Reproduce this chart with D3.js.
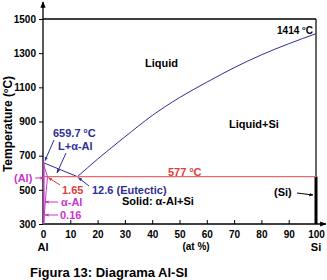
<!DOCTYPE html>
<meta charset="utf-8">
<style>
    body { margin: 0; background: #fff; }
    svg { font-family: "Liberation Sans", Arial, sans-serif; font-weight: bold; }
    .tick text { font-size: 10px; font-weight: bold; fill: #000; font-family: "Liberation Sans", Arial, sans-serif; }
</style>
<body>
<script src="https://cdn.jsdelivr.net/npm/d3@7"></script>
<script>
    var width = 327,
        height = 280

    // data
    var xTicks = [0, 10, 20, 30, 40, 50, 60, 70, 80, 90, 100]
    var yTicks = [300, 500, 700, 900, 1100, 1300, 1500]
    var liqAl = [[0, 659.7], [12.6, 577]]
    var liqSi = [[12.6, 577], [20, 680], [30, 810], [40, 935], [50, 1040], [60, 1130], [70, 1215], [80, 1290], [90, 1355], [100, 1414]]
    var solidus = [[0, 659.7], [1.65, 577]]
    var solvus = [[1.65, 577], [1.2, 500], [0.7, 400], [0.16, 300]]
    var eutecticT = 577

    var blue = "#2e2e96", red = "#e03c3c", pink = "#cc33cc"

    var svg = d3.select("body").append("svg")
        .attr("width", width)
        .attr("height", height)

    var defs = svg.append("defs")
    function marker(id, color, size) {
        defs.append("marker").attr("id", id)
            .attr("viewBox", "0 0 10 10").attr("refX", 9).attr("refY", 5)
            .attr("markerWidth", size).attr("markerHeight", size)
            .attr("orient", "auto")
            .append("path").attr("d", "M0,1L10,5L0,9z").attr("fill", color)
    }
    marker("ab", blue, 4)
    marker("ar", red, 4)
    marker("ap", pink, 4)
    marker("ak", "#000", 4)
    marker("axis", "#000", 5)

    var x = d3.scaleLinear().domain([0, 100]).range([43, 316])
    var y = d3.scaleLinear().domain([300, 1500]).range([224, 19])

    var line = d3.line()
        .x(function (d) { return x(d[0]) })
        .y(function (d) { return y(d[1]) })

    // axes
    var xAxis = svg.append("g").attr("transform", "translate(0," + y(300) + ")")
        .call(d3.axisBottom(x).tickValues(xTicks).tickFormat(d3.format("d")).tickSize(-4).tickPadding(7))
    xAxis.select(".domain").remove()

    var yAxis = svg.append("g").attr("transform", "translate(" + x(0) + ",0)")
        .call(d3.axisLeft(y).tickValues(yTicks).tickFormat(d3.format("d")).tickSize(4).tickPadding(3))
    yAxis.select(".domain").remove()

    svg.append("line").attr("x1", x(0)).attr("y1", y(300)).attr("x2", 326).attr("y2", y(300))
        .attr("stroke", "#000").attr("stroke-width", 1.3).attr("marker-end", "url(#axis)")
    svg.append("line").attr("x1", x(0)).attr("y1", y(300)).attr("x2", x(0)).attr("y2", 2)
        .attr("stroke", "#000").attr("stroke-width", 1.3).attr("marker-end", "url(#axis)")

    // frame
    svg.append("line").attr("x1", x(0)).attr("x2", x(100)).attr("y1", y(1500)).attr("y2", y(1500))
        .attr("stroke", "#000").attr("stroke-width", 1.5)
    svg.append("line").attr("x1", x(100)).attr("x2", x(100)).attr("y1", y(1500)).attr("y2", y(eutecticT))
        .attr("stroke", "#000").attr("stroke-width", 1.2)
    svg.append("line").attr("x1", x(100)).attr("x2", x(100)).attr("y1", y(eutecticT)).attr("y2", y(300))
        .attr("stroke", "#000").attr("stroke-width", 3)

    // phase boundaries
    svg.append("path").datum(liqSi).attr("d", line.curve(d3.curveMonotoneX))
        .attr("fill", "none").attr("stroke", blue).attr("stroke-width", 1)
    line.curve(d3.curveLinear)
    svg.append("path").datum(liqAl).attr("d", line)
        .attr("fill", "none").attr("stroke", blue).attr("stroke-width", 1)
    svg.append("line").attr("x1", x(0)).attr("x2", x(100)).attr("y1", y(eutecticT)).attr("y2", y(eutecticT))
        .attr("stroke", "#e86a6a").attr("stroke-width", 1.2)
    svg.append("path").datum(solidus).attr("d", line)
        .attr("fill", "none").attr("stroke", pink).attr("stroke-width", 1)
    svg.append("path").datum(solvus).attr("d", line.curve(d3.curveBasis))
        .attr("fill", "none").attr("stroke", pink).attr("stroke-width", 1)
    line.curve(d3.curveLinear)
    svg.append("line").attr("x1", x(0) + 1).attr("x2", x(0) + 1).attr("y1", y(659.7)).attr("y2", y(300))
        .attr("stroke", pink).attr("stroke-width", 1.2)

    // labels
    function label(tx, ty, str, color, size, anchor) {
        return svg.append("text").attr("x", tx).attr("y", ty).text(str)
            .attr("fill", color).attr("font-size", size || 11)
            .attr("text-anchor", anchor || "start")
    }
    function deg(t, pre, post) {
        t.text(pre)
        t.append("tspan").attr("font-size", "0.6em").attr("dy", -4).text("o")
        t.append("tspan").attr("dy", 4).text(post)
        return t
    }
    function arrow(x1, y1, x2, y2, color, id) {
        svg.append("line").attr("x1", x1).attr("y1", y1).attr("x2", x2).attr("y2", y2)
            .attr("stroke", color).attr("stroke-width", 1).attr("marker-end", "url(#" + id + ")")
    }

    label(145, 67, "Liquid", "#000", 11)
    deg(label(313, 34, "", "#000", 10, "end"), "1414 ", "C")
    label(229, 128, "Liquid+Si", "#000", 11)
    label(122, 205, "Solid: \u03b1-Al+Si", "#000", 11)
    deg(label(168, 176, "", red, 11), "577 ", "C")

    deg(label(53, 137, "", blue, 11), "659.7 ", "C")
    arrow(54, 140, x(0) + 2, y(659.7) - 2, blue, "ab")
    label(58, 150, "L+\u03b1-Al", blue, 11)
    arrow(66, 153, 57, 173, blue, "ab")
    label(92, 194, "12.6 (Eutectic)", blue, 11)
    arrow(89, 186, x(12.6) + 1, y(eutecticT) + 1, blue, "ab")

    label(14, 182, "(Al)", pink, 11)
    arrow(35, 178, x(0) + 1, 178, pink, "ap")
    label(62, 194, "1.65", red, 11)
    arrow(60, 185, x(1.65) + 1, y(eutecticT) + 1, red, "ar")
    label(61, 206, "\u03b1-Al", pink, 11)
    arrow(58, 202, x(0) + 2, 202, pink, "ap")
    label(60, 219, "0.16", pink, 11)
    arrow(58, 215, x(0) + 2, 215, pink, "ap")

    label(274, 196, "(Si)", "#000", 11)
    arrow(297, 193, x(100) - 3, 195, "#000", "ak")

    // axis titles
    var yt = svg.append("text").attr("transform", "translate(12,124) rotate(-90)")
        .attr("text-anchor", "middle").attr("font-size", 12).attr("fill", "#000")
    deg(yt, "Temperature (", "C)")
    label(x(0), 251, "Al", "#000", 11, "middle")
    label(x(100), 251, "Si", "#000", 11, "middle")
    label(196, 250, "(at %)", "#000", 10, "middle")

    label(30, 277, "Figura 13: Diagrama Al-SI", "#000", 13)
</script>
</body>
